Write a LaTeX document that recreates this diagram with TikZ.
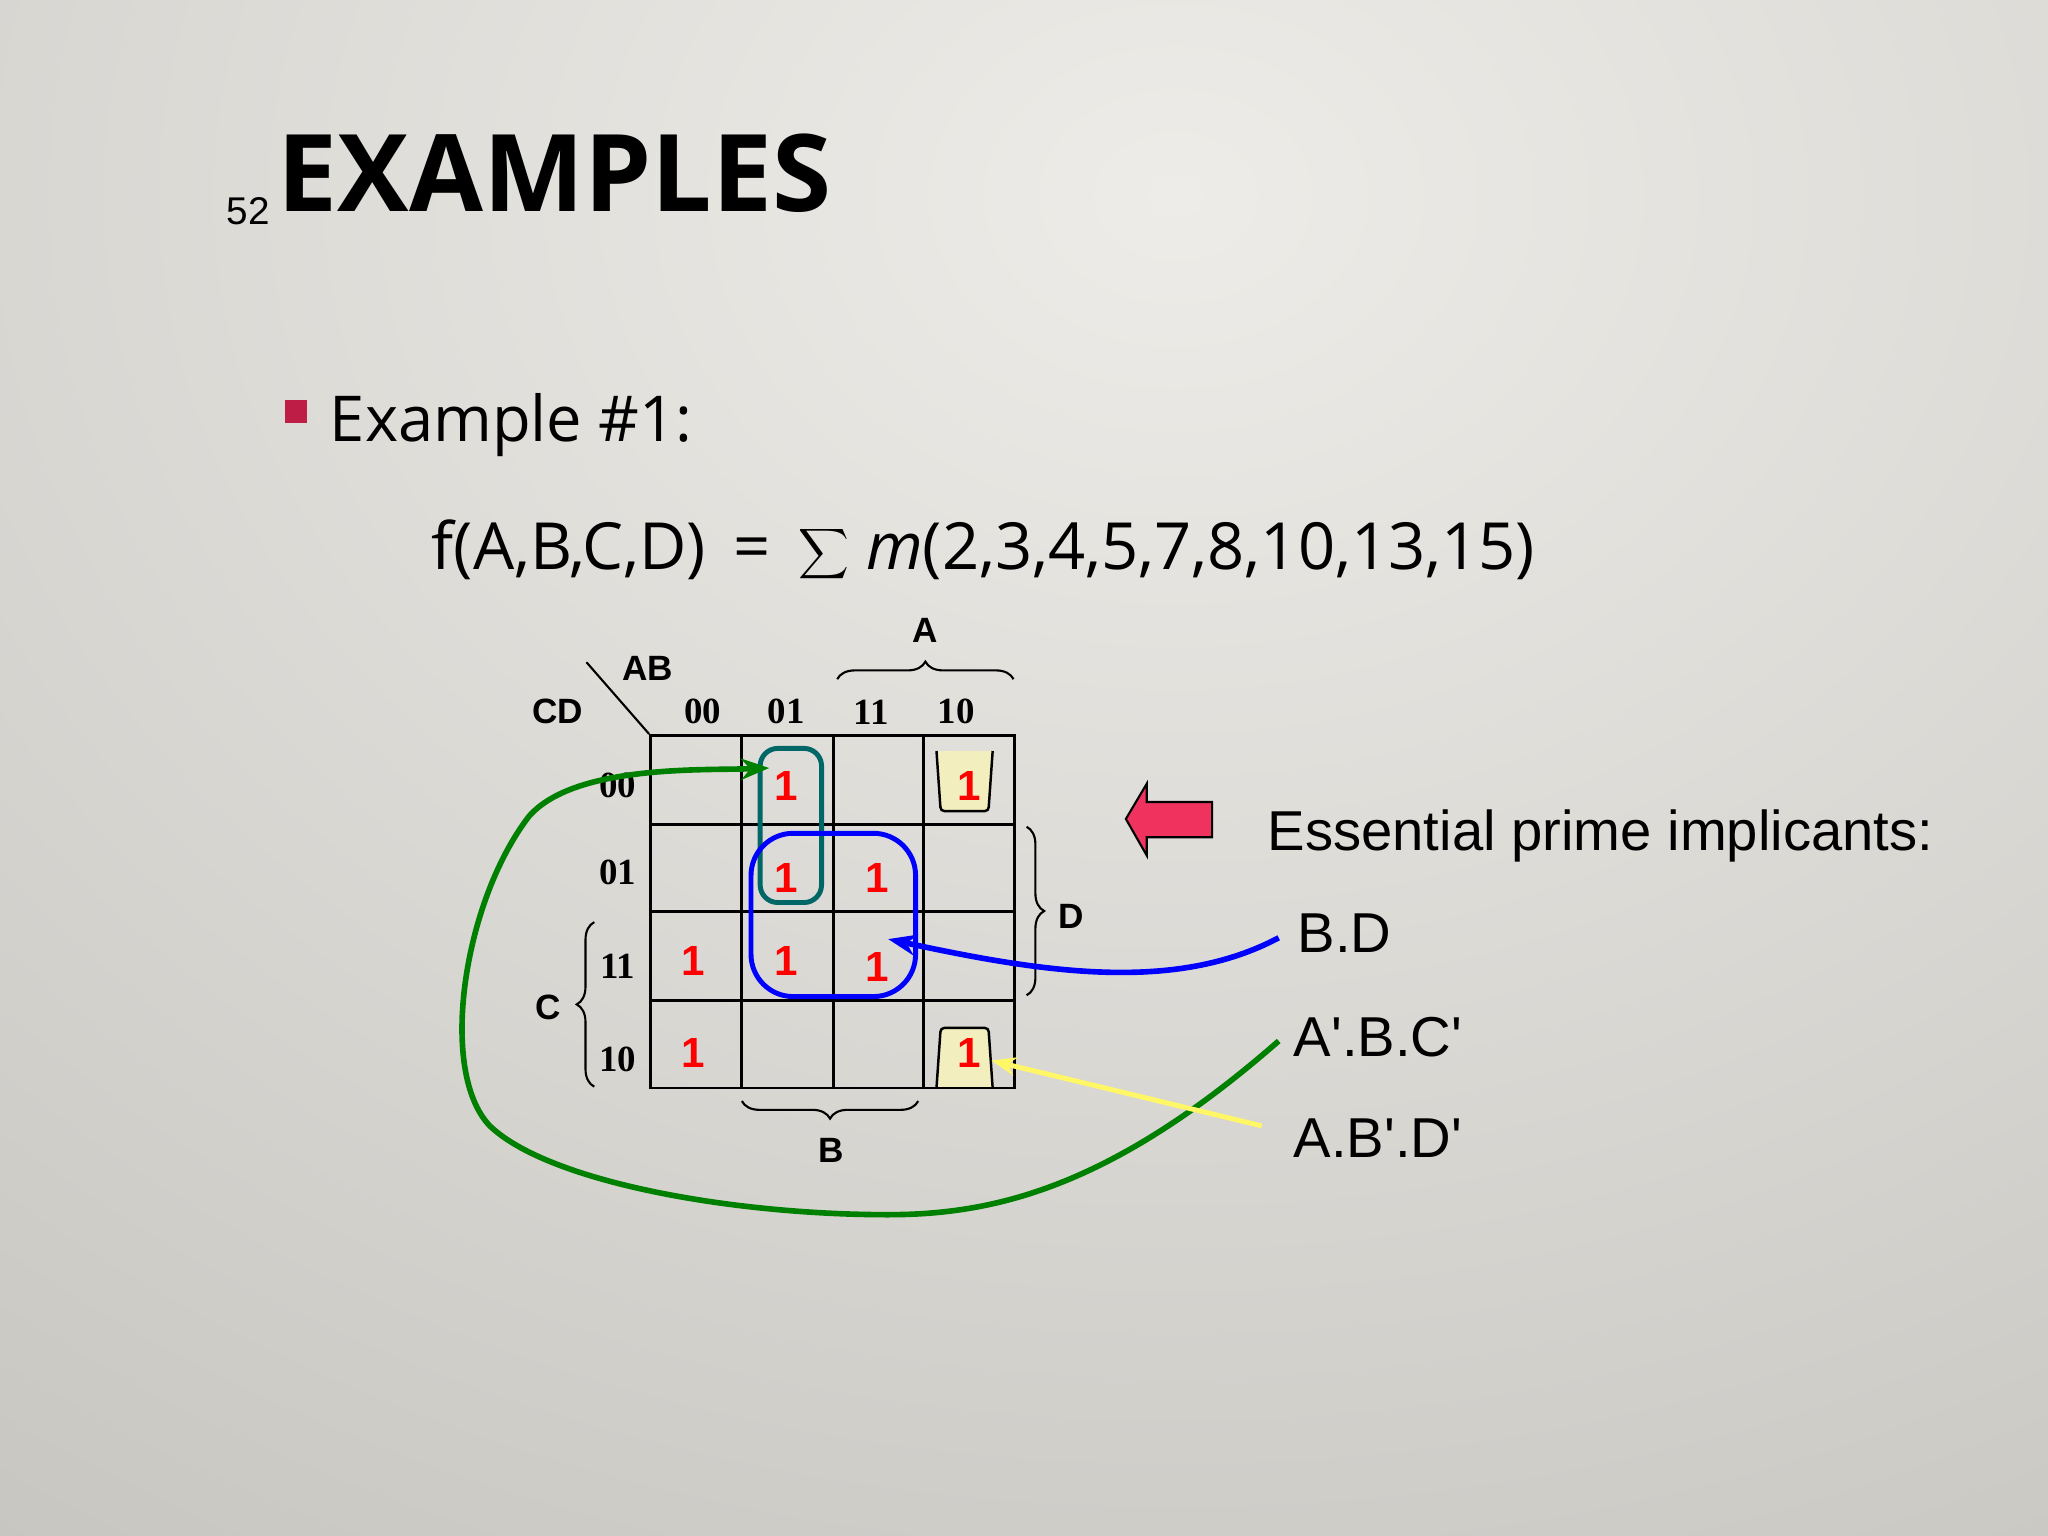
\documentclass[tikz,border=0pt]{standalone}
\usepackage{fontspec}
\setmainfont{Liberation Sans}
\newfontfamily\titlef{Open Sans}
\newfontfamily\timesf{Liberation Serif}
\usetikzlibrary{decorations.pathreplacing,arrows.meta}
\definecolor{bgin}{RGB}{238,236,232}
\definecolor{bgout}{RGB}{200,198,193}
\definecolor{pinkarrow}{RGB}{240,50,95}
\definecolor{cellyellow}{RGB}{242,238,190}
\definecolor{bullet}{RGB}{190,30,70}
\begin{document}
\begin{tikzpicture}[x=0.013061cm,y=-0.013061cm,
  grid/.style={line width=0.8pt,black},
  one/.style={text=red,font=\fontsize{12}{12}\selectfont\bfseries},
  hdr/.style={font=\timesf\fontsize{10.5}{10}\selectfont\bfseries},
  lbl/.style={font=\fontsize{10}{10}\selectfont\bfseries},
  brc/.style={decorate,decoration={brace,amplitude=5pt},line width=0.6pt},
  big/.style={font=\fontsize{16}{16}\selectfont}]
\useasboundingbox (0,0) rectangle (1568,1176);
\shade[inner color=bgin, outer color=bgout] (-700,-1100) rectangle (2500,1400);
% title
\node[anchor=base west,font=\fontsize{11}{11}\selectfont] (num) at (164,172) {52};
\node[anchor=base west,font=\titlef\fontsize{30.5}{30}\selectfont,inner sep=0] (title) at (212,162) {\textbf{EXAMPLES}};
\fill[bullet] (218,306) rectangle (235,324);
\node[anchor=base west,font=\titlef\fontsize{18}{18}\selectfont,inner sep=0] (ex) at (252,338) {Example \#1:};
\node[anchor=base west,font=\titlef\fontsize{18.5}{18}\selectfont,inner sep=0] (f) at (330,436) {f(A,B,C,D) \,=\, $\displaystyle\sum$ \textit{m}(2,3,4,5,7,8,10,13,15)};
% yellow cells
\filldraw[fill=cellyellow,draw=none] (717,575) -- (760,575) -- (757,621) -- (720,621) -- cycle;
\draw[line width=0.7pt] (717,575) -- (720,618) to[out=-90,in=180] (723,621) -- (754,621) to[out=0,in=-90] (757,618) -- (760,575);
\filldraw[fill=cellyellow,draw=none] (717,833) -- (720,787) -- (757,787) -- (760,833) -- cycle;
\draw[line width=0.7pt] (717,833) -- (720,790) to[out=90,in=180] (723,787) -- (754,787) to[out=0,in=90] (757,790) -- (760,833);
% grid
\draw[grid] (498,563) rectangle (777,833);
\foreach \x in {568,638,707} \draw[grid] (\x,563) -- (\x,833);
\foreach \y in {631,698,766} \draw[grid] (498,\y) -- (777,\y);
\draw[line width=0.6pt] (449,507) -- (497,562);
\node[lbl] (AB) at (496,512) {AB};
\node[lbl] (CD) at (427,545) {CD};
\foreach \t/\x in {00/538,01/602,11/667,10/732} \node[hdr] (c\t) at (\x,545) {\t};
\foreach \t/\y in {00/601,01/668,11/740,10/811} \node[hdr] (r\t) at (473,\y) {\t};
\draw[brc] (641,520) -- (776,520);
\node[lbl] (Alab) at (708,483) {A};
\draw[brc] (703,843) -- (568,843);
\node[lbl] (Blab) at (636,881) {B};
\draw[brc] (786,633) -- (786,762);
\node[lbl] (Dlab) at (820,702) {D};
\draw[brc] (455,832) -- (455,706);
\node[lbl] (Clab) at (420,771) {C};
% ones
\foreach \n/\x/\y in {a/602/602,b/742/602,c/602/672,d/672/672,e/531/736,f/602/736,g/672/740,h/531/806,i/742/806}
  \node[one] (o\n) at (\x,\y) {1};
% groups
\draw[teal!80!black,line width=1.4pt,rounded corners=5pt] (582,573) rectangle (629,691);
\draw[blue,line width=1.4pt,rounded corners=12pt] (575,638) rectangle (701,763);
% pink arrow
\filldraw[fill=pinkarrow,draw=black,line width=0.6pt] (862,627) -- (878,600) -- (878,614) -- (928,614) -- (928,641) -- (878,641) -- (878,655) -- cycle;
\node[big,anchor=base west,inner sep=0] (epi) at (970,651) {Essential prime implicants:};
\node[big,anchor=base west,inner sep=0] (bd) at (993,729) {B.D};
\node[big,anchor=base west,inner sep=0] (abc) at (990,809) {A\textquotesingle.B.C\textquotesingle};
\node[big,anchor=base west,inner sep=0] (abd) at (990,886) {A.B\textquotesingle.D\textquotesingle};
\coordinate (bs) at (979,718);
\coordinate (be) at (680,719);
\coordinate (gs) at (979,797);
\coordinate (ge) at (589,588);
\coordinate (ys) at (966,862);
\coordinate (ye) at (759,812);
\draw[blue,line width=1.6pt,-{Stealth[length=8pt]}] (bs) .. controls (900,760) and (800,745) .. (be);
\draw[green!50!black,line width=1.6pt,-{Stealth[length=8pt]}] (gs) .. controls (850,910) and (760,930) .. (680,930)
  .. controls (560,930) and (420,905) .. (375,862)
  .. controls (335,820) and (355,690) .. (405,625)
  .. controls (440,585) and (540,590) .. (ge);
\draw[yellow!60!white,line width=1.4pt,-{Stealth[length=7pt]}] (ys) -- (ye);
\end{tikzpicture}
\end{document}
